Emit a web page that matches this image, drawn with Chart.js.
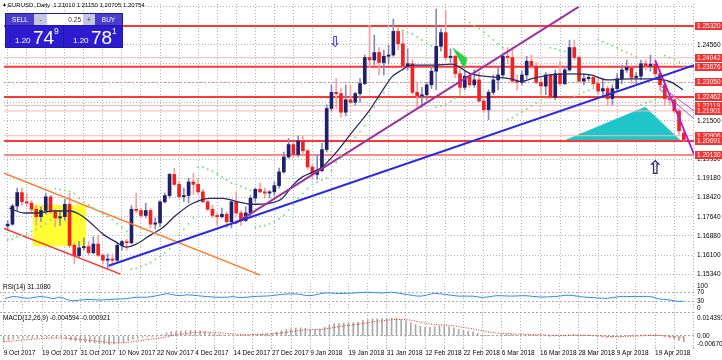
<!DOCTYPE html>
<html>
<head>
<meta charset="utf-8">
<script src="https://cdn.jsdelivr.net/npm/chart.js@4.4.1/dist/chart.umd.min.js"></script>
<style>
  body { margin: 0; background: #fff; width: 722px; height: 360px; overflow: hidden; position: relative;
         font-family: "Liberation Sans", Arial, sans-serif; }
  canvas { position: absolute; left: 0; }
  .txt { position: absolute; white-space: nowrap; line-height: 1; color: #000; }
  .box { position: absolute; text-align: center; color: #fff; font-size: 6.5px; line-height: 11px; }
</style>
</head>
<body>
<canvas id="main" width="722" height="283" style="top:0"></canvas>
<canvas id="rsi" width="722" height="27" style="top:283px"></canvas>
<canvas id="macd" width="722" height="50" style="top:310px"></canvas>

<!-- header line -->
<div class="txt" style="left:2px;top:2px;font-size:5px;">&#9650;</div>
<div class="txt" style="left:8px;top:2px;font-size:6px;">EURUSD.,Daily&nbsp; 1.21010 1.21150 1.20705 1.20754</div>

<!-- one click trading panel -->
<div style="position:absolute;left:5px;top:13px;width:118px;height:35px;background:#2417a6;"></div>
<div class="box" style="left:6px;top:14px;width:28px;height:11px;background:#4a3ecf;">SELL</div>
<div class="box" style="left:34px;top:14px;width:13px;height:11px;background:#c6c6e6;color:#333;">-</div>
<div class="box" style="left:47px;top:14px;width:34px;height:11px;background:#fff;color:#333;text-align:right;padding-right:2px;">0.25</div>
<div class="box" style="left:83px;top:14px;width:12px;height:11px;background:#c6c6e6;color:#333;">+</div>
<div class="box" style="left:95px;top:14px;width:27px;height:11px;background:#4a3ecf;">BUY</div>
<div style="position:absolute;left:6px;top:26px;width:57px;height:21px;background:#2d1ccf;"></div>
<div style="position:absolute;left:64px;top:26px;width:58px;height:21px;background:#2d1ccf;"></div>
<div class="txt" style="left:15px;top:37px;font-size:8px;color:#fff;">1.20</div>
<div class="txt" style="left:33px;top:28px;font-size:19px;color:#fff;">74</div>
<div class="txt" style="left:54px;top:27px;font-size:8.5px;color:#fff;">9</div>
<div class="txt" style="left:73px;top:37px;font-size:8px;color:#fff;">1.20</div>
<div class="txt" style="left:91px;top:28px;font-size:19px;color:#fff;">78</div>
<div class="txt" style="left:112px;top:27px;font-size:8.5px;color:#fff;">1</div>

<!-- sub window titles -->
<div class="txt" style="left:3px;top:283.5px;font-size:6.5px;">RSI(14) 31.1080</div>
<div class="txt" style="left:3px;top:314.5px;font-size:6.5px;">MACD(12,26,9) -0.004594 -0.000921</div>

<script>
// bar index 0 = 9 Oct 2017, 142 = 27 Apr 2018
const opens = [
  1.1728,1.1735,1.1808,1.1862,1.1825,1.1820,1.1795,1.1765,1.1790,1.1845,
  1.1785,1.1760,1.1765,1.1815,1.1650,1.1608,1.1640,1.1645,1.1620,1.1655,
  1.1610,1.1590,1.1595,1.1590,1.1650,1.1665,1.1660,1.1795,1.1790,1.1770,
  1.1790,1.1735,1.1740,1.1825,1.1850,1.1935,1.1895,1.1845,1.1850,1.1905,
  1.1895,1.1865,1.1825,1.1795,1.1770,1.1765,1.1775,1.1745,1.1825,1.1780,
  1.1750,1.1780,1.1840,1.1875,1.1865,1.1860,1.1865,1.1890,1.1945,1.2005,
  1.2055,1.2015,1.2070,1.2030,1.1965,1.1935,1.1950,1.2035,1.2200,1.2265,
  1.2260,1.2185,1.2235,1.2225,1.2260,1.2300,1.2405,1.2395,1.2425,1.2385,
  1.2410,1.2415,1.2510,1.2460,1.2370,1.2380,1.2265,1.2250,1.2255,1.2295,
  1.2350,1.2450,1.2505,1.2405,1.2410,1.2340,1.2285,1.2330,1.2295,1.2315,
  1.2230,1.2195,1.2265,1.2315,1.2335,1.2410,1.2405,1.2310,1.2305,1.2335,
  1.2390,1.2370,1.2305,1.2290,1.2335,1.2245,1.2340,1.2300,1.2355,1.2445,
  1.2405,1.2310,1.2320,1.2325,1.2300,1.2270,1.2280,1.2240,1.2280,1.2320,
  1.2355,1.2365,1.2325,1.2330,1.2380,1.2370,1.2378,1.2340,1.2295,1.2240,
  1.2235,1.2190,1.2101
];
const highs = [
  1.1750,1.1815,1.1880,1.1880,1.1860,1.1830,1.1810,1.1805,1.1860,1.1850,
  1.1795,1.1790,1.1835,1.1860,1.1660,1.1665,1.1680,1.1665,1.1685,1.1690,
  1.1615,1.1615,1.1615,1.1660,1.1670,1.1675,1.1810,1.1860,1.1800,1.1820,
  1.1800,1.1760,1.1830,1.1860,1.1940,1.1960,1.1905,1.1880,1.1920,1.1940,
  1.1915,1.1875,1.1830,1.1810,1.1780,1.1800,1.1785,1.1830,1.1865,1.1790,
  1.1805,1.1850,1.1880,1.1900,1.1880,1.1870,1.1905,1.1960,1.2025,1.2080,
  1.2065,1.2090,1.2090,1.2035,1.1975,1.2015,1.2060,1.2215,1.2295,1.2320,
  1.2280,1.2295,1.2295,1.2265,1.2320,1.2415,1.2535,1.2495,1.2445,1.2435,
  1.2455,1.2560,1.2520,1.2510,1.2440,1.2395,1.2300,1.2285,1.2305,1.2370,
  1.2600,1.2520,1.2595,1.2440,1.2415,1.2360,1.2350,1.2340,1.2355,1.2345,
  1.2245,1.2275,1.2335,1.2365,1.2420,1.2445,1.2445,1.2335,1.2350,1.2410,
  1.2415,1.2385,1.2320,1.2345,1.2340,1.2355,1.2390,1.2370,1.2475,1.2475,
  1.2410,1.2340,1.2335,1.2335,1.2325,1.2320,1.2290,1.2295,1.2340,1.2375,
  1.2395,1.2375,1.2345,1.2395,1.2395,1.2415,1.2395,1.2355,1.2310,1.2260,
  1.2245,1.2200,1.2115
];
const lows = [
  1.1710,1.1730,1.1790,1.1810,1.1805,1.1780,1.1730,1.1745,1.1775,1.1775,
  1.1725,1.1730,1.1750,1.1640,1.1575,1.1600,1.1630,1.1610,1.1615,1.1605,
  1.1575,1.1555,1.1575,1.1585,1.1630,1.1630,1.1655,1.1780,1.1760,1.1760,
  1.1720,1.1715,1.1725,1.1820,1.1840,1.1890,1.1840,1.1825,1.1820,1.1855,
  1.1855,1.1820,1.1790,1.1760,1.1730,1.1760,1.1720,1.1720,1.1770,1.1730,
  1.1745,1.1760,1.1825,1.1860,1.1840,1.1840,1.1850,1.1880,1.1940,1.2000,
  1.2000,1.2005,1.2015,1.1955,1.1915,1.1915,1.1945,1.2025,1.2190,1.2200,
  1.2165,1.2170,1.2220,1.2215,1.2225,1.2295,1.2365,1.2375,1.2335,1.2335,
  1.2380,1.2410,1.2435,1.2365,1.2355,1.2255,1.2205,1.2205,1.2235,1.2280,
  1.2275,1.2430,1.2395,1.2385,1.2325,1.2260,1.2275,1.2285,1.2285,1.2225,
  1.2185,1.2155,1.2255,1.2275,1.2325,1.2380,1.2305,1.2275,1.2295,1.2320,
  1.2360,1.2300,1.2255,1.2255,1.2240,1.2235,1.2290,1.2295,1.2350,1.2395,
  1.2305,1.2295,1.2310,1.2285,1.2255,1.2250,1.2215,1.2215,1.2270,1.2300,
  1.2345,1.2300,1.2300,1.2315,1.2355,1.2350,1.2330,1.2275,1.2215,1.2215,
  1.2180,1.2095,1.2070
];
const closes = [
  1.1735,1.1808,1.1862,1.1825,1.1820,1.1795,1.1765,1.1790,1.1845,1.1785,
  1.1760,1.1765,1.1815,1.1650,1.1608,1.1640,1.1645,1.1620,1.1655,1.1610,
  1.1590,1.1595,1.1590,1.1650,1.1665,1.1660,1.1795,1.1790,1.1770,1.1790,
  1.1735,1.1740,1.1825,1.1850,1.1935,1.1895,1.1845,1.1850,1.1905,1.1895,
  1.1865,1.1825,1.1795,1.1770,1.1765,1.1775,1.1745,1.1825,1.1780,1.1750,
  1.1780,1.1840,1.1875,1.1865,1.1860,1.1865,1.1890,1.1945,1.2005,1.2055,
  1.2015,1.2070,1.2030,1.1965,1.1935,1.1950,1.2035,1.2200,1.2265,1.2260,
  1.2185,1.2235,1.2225,1.2260,1.2300,1.2405,1.2395,1.2425,1.2385,1.2410,
  1.2415,1.2510,1.2460,1.2370,1.2380,1.2265,1.2250,1.2255,1.2295,1.2350,
  1.2450,1.2505,1.2405,1.2410,1.2340,1.2285,1.2330,1.2295,1.2315,1.2230,
  1.2195,1.2265,1.2315,1.2335,1.2410,1.2405,1.2310,1.2305,1.2335,1.2390,
  1.2370,1.2305,1.2290,1.2335,1.2245,1.2340,1.2300,1.2355,1.2445,1.2405,
  1.2310,1.2320,1.2325,1.2300,1.2270,1.2280,1.2240,1.2280,1.2320,1.2355,
  1.2365,1.2325,1.2330,1.2380,1.2370,1.2378,1.2340,1.2295,1.2240,1.2235,
  1.2190,1.2110,1.2075
];

// parabolic SAR dots, one per bar
const sar = [
  1.1671,1.1675,1.1683,1.1690,1.1698,1.1706,1.1714,1.1726,1.1737,1.1753,
  1.1878,1.1874,1.1870,1.1866,1.1858,1.1839,1.1823,1.1812,1.1800,1.1788,
  1.1776,1.1765,1.1753,1.1737,1.1722,1.1706,1.1554,1.1558,1.1565,1.1573,
  1.1581,1.1593,1.1605,1.1620,1.1636,1.1663,1.1690,1.1714,1.1737,1.1761,
  1.1964,1.1964,1.1956,1.1948,1.1937,1.1925,1.1913,1.1901,1.1894,1.1886,
  1.1878,1.1870,1.1722,1.1726,1.1730,1.1737,1.1745,1.1757,1.1772,1.1792,
  1.1815,1.1839,1.1858,1.1878,1.1894,1.1905,1.1913,1.1921,1.1952,1.1983,
  1.2010,1.2037,1.2061,1.2084,1.2108,1.2131,1.2170,1.2205,1.2237,1.2264,
  1.2530,1.2526,1.2522,1.2515,1.2507,1.2499,1.2487,1.2475,1.2464,1.2452,
  1.2206,1.2210,1.2218,1.2229,1.2241,1.2253,1.2558,1.2546,1.2534,1.2522,
  1.2507,1.2491,1.2475,1.2460,1.2444,1.2155,1.2163,1.2175,1.2186,1.2198,
  1.2210,1.2222,1.2233,1.2241,1.2444,1.2440,1.2433,1.2429,1.2241,1.2249,
  1.2257,1.2265,1.2272,1.2280,1.2476,1.2468,1.2460,1.2452,1.2444,1.2433,
  1.2425,1.2417,1.2409,1.2214,1.2222,1.2229,1.2237,1.2241,1.2413,1.2405,
  1.2397,1.2386,1.2370
];

// moving average, read at sample points
const maIdx = [0.3, 3.4, 6.1, 9.7, 13.2, 15.3, 17.4, 20.1, 22.8, 24.9, 27.0, 29.9, 32.6, 35.4, 38.9,
  42.5, 45.2, 47.9, 51.4, 55.0, 57.7, 59.8, 61.9, 64.0, 66.0, 68.8, 72.3, 75.9, 78.6, 80.7, 82.7, 84.8,
  86.9, 89.6, 93.2, 97.4, 101.5, 105.7, 107.8, 109.9, 114.1, 118.3, 122.4, 126.0, 130.8, 134.9, 139.1, 141.8];
const maVal = [1.1800, 1.1780, 1.1780, 1.1788, 1.1788, 1.1772, 1.1741, 1.1694, 1.1663, 1.1643, 1.1655,
  1.1690, 1.1722, 1.1772, 1.1819, 1.1839, 1.1839, 1.1827, 1.1815, 1.1819, 1.1839, 1.1890, 1.1925, 1.1944,
  1.1964, 1.2019, 1.2104, 1.2190, 1.2269, 1.2327, 1.2354, 1.2374, 1.2374, 1.2374, 1.2378, 1.2339, 1.2327,
  1.2319, 1.2308, 1.2319, 1.2335, 1.2339, 1.2335, 1.2315, 1.2319, 1.2319, 1.2308, 1.2276];

// RSI(14), read at sample points
const rsiIdx = [0.3, 1.9, 3.4, 4.9, 6.1, 7.6, 9.0, 10.3, 11.8, 13.2, 14.3, 15.9, 18.0, 20.1, 22.2, 24.3,
  25.7, 27.8, 29.9, 32.0, 34.1, 35.4, 36.8, 38.3, 40.4, 42.5, 44.5, 46.6, 47.9, 49.3, 52, 56, 58, 61, 64,
  67, 70, 73, 76, 79, 81, 84, 87, 90, 92, 95, 98, 100, 103, 106, 109, 112, 115, 118, 121, 124, 126, 128.7,
  131.8, 134.9, 137.0, 138.5, 140.2, 141.2, 142];
const rsiVal = [43, 52, 49, 44, 47, 52, 49, 43, 49, 39, 33, 36, 39, 36, 39, 41, 43, 49, 49, 56, 65, 60, 56,
  60, 56, 52, 49, 49, 52, 47, 52, 56, 62, 64, 56, 68, 66, 68, 72, 68, 72, 62, 54, 66, 62, 54, 54, 48, 56,
  54, 56, 50, 52, 58, 50, 46, 44, 52, 52, 52, 41, 38, 32, 30, 31.1];

// MACD(12,26,9) main (histogram) and signal, one per bar
const macdMain = [
  -0.0040,-0.0033,-0.0024,-0.0020,-0.0017,-0.0016,-0.0017,-0.0015,-0.0010,-0.0011,
  -0.0013,-0.0014,-0.0011,-0.0022,-0.0034,-0.0040,-0.0044,-0.0049,-0.0052,-0.0056,
  -0.0060,-0.0064,-0.0067,-0.0063,-0.0057,-0.0052,-0.0038,-0.0026,-0.0018,-0.0011,
  -0.0009,-0.0008,0.0001,0.0011,0.0026,0.0034,0.0036,0.0037,0.0042,0.0045,
  0.0044,0.0040,0.0033,0.0025,0.0018,0.0013,0.0007,0.0009,0.0007,0.0003,
  0.0002,0.0006,0.0012,0.0016,0.0018,0.0020,0.0024,0.0032,0.0042,0.0053,
  0.0057,0.0064,0.0066,0.0062,0.0055,0.0051,0.0054,0.0069,0.0085,0.0097,
  0.0099,0.0103,0.0104,0.0107,0.0112,0.0124,0.0131,0.0138,0.0138,0.0139,
  0.0139,0.0144,0.0142,0.0132,0.0123,0.0106,0.0091,0.0078,0.0071,0.0069,
  0.0074,0.0081,0.0078,0.0074,0.0065,0.0053,0.0047,0.0039,0.0034,0.0021,
  0.0008,0.0003,0.0003,0.0004,0.0011,0.0016,0.0012,0.0008,0.0007,0.0010,
  0.0011,0.0007,0.0003,0.0003,-0.0004,0.0000,-0.0002,0.0001,0.0010,0.0013,
  0.0008,0.0005,0.0003,0.0000,-0.0005,-0.0007,-0.0012,-0.0011,-0.0007,-0.0001,
  0.0003,0.0003,0.0003,0.0007,0.0009,0.0010,0.0009,0.0003,-0.0008,-0.0014,
  -0.0024,-0.0037,-0.0046
];
const macdSignal = [
  -0.0045,-0.0043,-0.0040,-0.0036,-0.0032,-0.0029,-0.0026,-0.0024,-0.0021,-0.0019,
  -0.0018,-0.0017,-0.0016,-0.0017,-0.0020,-0.0024,-0.0028,-0.0032,-0.0036,-0.0040,
  -0.0044,-0.0048,-0.0052,-0.0054,-0.0055,-0.0054,-0.0050,-0.0045,-0.0040,-0.0034,
  -0.0028,-0.0024,-0.0019,-0.0013,-0.0006,0.0002,0.0008,0.0014,0.0019,0.0024,
  0.0028,0.0031,0.0032,0.0031,0.0029,0.0026,0.0022,0.0020,0.0017,0.0014,
  0.0012,0.0011,0.0011,0.0012,0.0013,0.0015,0.0017,0.0020,0.0024,0.0030,
  0.0035,0.0040,0.0045,0.0049,0.0050,0.0051,0.0052,0.0055,0.0061,0.0068,
  0.0074,0.0080,0.0085,0.0089,0.0094,0.0100,0.0106,0.0112,0.0118,0.0122,
  0.0126,0.0130,0.0133,0.0133,0.0131,0.0126,0.0119,0.0111,0.0103,0.0096,
  0.0092,0.0089,0.0087,0.0085,0.0081,0.0075,0.0069,0.0063,0.0057,0.0050,
  0.0042,0.0034,0.0028,0.0023,0.0021,0.0020,0.0018,0.0016,0.0014,0.0013,
  0.0013,0.0012,0.0010,0.0009,0.0006,0.0005,0.0003,0.0003,0.0004,0.0006,
  0.0006,0.0006,0.0005,0.0004,0.0002,0.0000,-0.0003,-0.0004,-0.0005,-0.0004,
  -0.0003,-0.0002,-0.0001,0.0001,0.0003,0.0004,0.0005,0.0005,0.0002,-0.0001,
  -0.0006,-0.0009,-0.0009
];

const dateLabels = ['9 Oct 2017', '19 Oct 2017', '31 Oct 2017', '10 Nov 2017', '22 Nov 2017', '4 Dec 2017',
  '14 Dec 2017', '27 Dec 2017', '9 Jan 2018', '19 Jan 2018', '31 Jan 2018', '12 Feb 2018', '22 Feb 2018',
  '6 Mar 2018', '16 Mar 2018', '28 Mar 2018', '9 Apr 2018', '19 Apr 2018'];

const priceTicks = [1.15340, 1.16100, 1.16880, 1.17640, 1.18420, 1.19180, 1.19950, 1.20720, 1.21500,
  1.22260, 1.23030, 1.23790, 1.24560, 1.25330, 1.26100];
const shownPriceTicks = [1.15340, 1.16100, 1.16880, 1.17640, 1.18420, 1.19180, 1.19950, 1.21500, 1.24560];

// horizontal levels with their price tags
const levelPrices = [1.25320, 1.24042, 1.23676, 1.23050, 1.22462, 1.22119, 1.21901, 1.20906, 1.20691, 1.20130];
const levelWidth = [2, 1, 2, 0, 2, 1, 1, 1, 2, 1.3];

// drawn objects, [bar index, price]
const blueTrend = [[21.2, 1.15681], [144.14, 1.23740]];
const purpleTrend = [[47.7, 1.17372], [119.9, 1.26083]];
const channelTop = [[-0.77, 1.19404], [53.1, 1.15302]];
const channelBottom = [[-0.77, 1.17177], [23.7, 1.15341]];
const fastDrop = [[136.0, 1.23935], [144.14, 1.20166]];
const fanA = [[137.0, 1.22763], [144.14, 1.21591]];
const fanB = [[137.0, 1.22919], [144.14, 1.21904]];
const yellowBox = [[5.28, 1.18115], [16.35, 1.18115], [16.35, 1.16474], [5.28, 1.16474]];
const cyanTriangle = [[117.2, 1.20732], [133.9, 1.22060], [141.2, 1.20732]];
const greenTriangle = [[93.4, 1.24443], [96.5, 1.24013], [95.9, 1.23583]];
const downArrow = [68.8, 1.2464];
const upArrow = [136.0, 1.1956];

const X_MIN = -0.77, X_MAX = 144.14;
const AXIS_W = 28;
const GRID = '#aeb4bc';
const FONT = { family: '"Liberation Sans", Arial, sans-serif', size: 6.5 };
const BULL = '#1f1f6b', BEAR = '#ee2222', BULL_WICK = '#8a8ab8', BEAR_WICK = '#f4a0a0';

const gridIdx = [];
for (let v = 0; v <= 144; v += 4) gridIdx.push(v);

const pts = arr => arr.map(p => ({ x: p[0], y: p[1] }));

function seg(points, color, width, order) {
  return { type: 'line', data: pts(points), borderColor: color, borderWidth: width,
    pointRadius: 0, tension: 0, fill: false, order: order };
}

function shape(points, color, order) {
  return { type: 'line', data: pts(points), borderColor: color, borderWidth: 0.5, backgroundColor: color,
    pointRadius: 0, tension: 0, fill: 'shape', order: order };
}

// level line style: 0 = dotted, 1 = thin pink, >1 = red
function levelLine(p, w) {
  const d = seg([[X_MIN, p], [X_MAX, p]],
    w === 0 ? '#c89a9a' : (w >= 2 ? '#ff3636' : (w > 1 ? '#ff6060' : '#ffb4b4')), w === 0 ? 1 : w, 18);
  if (w === 0) d.borderDash = [2, 2];
  return d;
}

function xScale() {
  return {
    type: 'linear', min: X_MIN, max: X_MAX, offset: false,
    border: { display: false, dash: [1, 2] },
    grid: { color: GRID, drawTicks: false, offset: false },
    ticks: { display: false },
    afterBuildTicks: s => { s.ticks = gridIdx.map(v => ({ value: v })); },
    afterFit: s => { s.height = 0; s.paddingLeft = 0; s.paddingRight = 0; }
  };
}

function fitRight(s) {
  s.width = AXIS_W;
  s.paddingTop = 0;
  s.paddingBottom = 0;
}

const baseOptions = {
  animation: false,
  responsive: false,
  layout: { padding: 0 },
  plugins: { legend: { display: false }, tooltip: { enabled: false } }
};

// price tags on the right axis and arrow objects
const mainExtras = {
  id: 'mainExtras',
  afterDatasetsDraw(chart) {
    const { ctx, scales: { x, y } } = chart;
    ctx.save();
    ctx.textAlign = 'center';
    ctx.textBaseline = 'middle';
    ctx.fillStyle = '#4444d4';
    ctx.font = 'bold 15px "DejaVu Sans"';
    ctx.fillText('\u21E9', x.getPixelForValue(downArrow[0]), y.getPixelForValue(downArrow[1]));
    ctx.fillStyle = '#2c2c78';
    ctx.font = 'bold 19px "DejaVu Sans"';
    ctx.fillText('\u21E7', x.getPixelForValue(upArrow[0]), y.getPixelForValue(upArrow[1]));
    ctx.restore();
  },
  afterDraw(chart) {
    const { ctx, chartArea, scales: { y } } = chart;
    ctx.save();
    ctx.font = '6.5px "Liberation Sans", Arial, sans-serif';
    ctx.textBaseline = 'middle';
    levelPrices.forEach(p => {
      const py = Math.round(y.getPixelForValue(p));
      ctx.fillStyle = '#f03434';
      ctx.fillRect(chartArea.right + 1, py - 4, AXIS_W - 1, 8);
      ctx.fillStyle = '#fff';
      ctx.fillText(p.toFixed(5), chartArea.right + 3, py + 0.5);
    });
    ctx.restore();
  }
};

const bull = closes.map((c, i) => c >= opens[i]);

const mainDatasets = [
  shape(yellowBox, '#ffff33', 20),
  shape(cyanTriangle, '#1fc6c9', 19),
  ...levelPrices.map((p, k) => levelLine(p, levelWidth[k])),
  {
    type: 'bar', order: 9, grouped: false, barThickness: 1, borderWidth: 0,
    data: lows.map((l, i) => ({ x: i, y: [l, highs[i]] })),
    backgroundColor: bull.map(b => b ? BULL_WICK : BEAR_WICK)
  },
  {
    type: 'bar', order: 8, grouped: false, barThickness: 3, borderWidth: 0, minBarLength: 1,
    data: opens.map((o, i) => ({ x: i, y: [o, closes[i]] })),
    backgroundColor: bull.map(b => b ? BULL : BEAR)
  },
  {
    type: 'line', order: 6, data: maIdx.map((v, k) => ({ x: v, y: maVal[k] })),
    borderColor: '#2b2b66', borderWidth: 1.3, pointRadius: 0, cubicInterpolationMode: 'monotone', fill: false
  },
  seg(channelTop, '#ff7a2a', 1.5, 5),
  seg(channelBottom, '#ff3030', 1.5, 5),
  seg(blueTrend, '#2a2ae6', 2, 4),
  seg(purpleTrend, '#9a34a2', 2, 4),
  seg(fanA, '#a050c8', 1, 4),
  seg(fanB, '#a050c8', 1, 4),
  seg(fastDrop, '#b818d0', 1.8, 4),
  shape(greenTriangle, '#2cd046', 3),
  {
    type: 'line', order: 2, showLine: false, data: sar.map((v, i) => ({ x: i, y: v })),
    pointRadius: 1, pointBorderWidth: 0, pointBackgroundColor: '#7ee07e'
  }
];

new Chart(document.getElementById('main'), {
  type: 'bar',
  data: { datasets: mainDatasets },
  options: Object.assign({}, baseOptions, {
    scales: {
      x: xScale(),
      y: {
        position: 'right', min: 1.15146, max: 1.26201,
        border: { display: false, dash: [1, 2] },
        grid: { color: GRID, drawTicks: false },
        ticks: { autoSkip: false, padding: 3, color: '#000', font: FONT,
          callback: v => shownPriceTicks.includes(v) ? v.toFixed(5) : '' },
        afterBuildTicks: s => { s.ticks = priceTicks.map(v => ({ value: v })); },
        afterFit: fitRight
      }
    }
  }),
  plugins: [mainExtras]
});

// RSI window
const rsiTicks = [0, 30, 70, 100];
new Chart(document.getElementById('rsi'), {
  type: 'line',
  data: { datasets: [{
    data: rsiIdx.map((v, k) => ({ x: v, y: rsiVal[k] })),
    borderColor: '#2a8cf0', borderWidth: 1, pointRadius: 0, tension: 0.3, fill: false
  }] },
  options: Object.assign({}, baseOptions, {
    scales: {
      x: xScale(),
      y: {
        position: 'right', min: -9, max: 113.6,
        border: { display: false, dash: [2, 2] },
        grid: { drawTicks: false, color: c => (c.tick && (c.tick.value === 30 || c.tick.value === 70)) ? '#b0b0b0' : 'transparent' },
        ticks: { autoSkip: false, padding: 3, color: '#000', font: FONT, callback: v => String(v) },
        afterBuildTicks: s => { s.ticks = rsiTicks.map(v => ({ value: v })); },
        afterFit: fitRight
      }
    }
  })
});

// MACD window with the date axis
const MACD_MIN = -0.008796, MACD_MAX = 0.019191;
const macdTickValues = [MACD_MAX, 0.014393, 0, -0.006705];
const macdTickLabels = ['', '0.014393', '0.00', '-0.006705'];
const macdX = xScale();
macdX.ticks = { display: true, autoSkip: false, maxRotation: 0, align: 'start', padding: 0, color: '#000', font: FONT,
  callback: v => (v % 8 === 0 && dateLabels[v / 8]) ? dateLabels[v / 8] : '' };
macdX.grid = { color: GRID, drawTicks: true, tickLength: 2, offset: false };
macdX.afterFit = s => { s.height = 13; s.paddingLeft = 0; s.paddingRight = 0; };

new Chart(document.getElementById('macd'), {
  type: 'bar',
  data: { datasets: [
    {
      type: 'line', order: 1, data: macdSignal.map((v, i) => ({ x: i, y: v })),
      borderColor: '#ff1c1c', borderWidth: 1, borderDash: [1, 1.5], pointRadius: 0, tension: 0, fill: false
    },
    {
      type: 'bar', order: 2, barThickness: 1, borderWidth: 0, backgroundColor: '#a8a8a8',
      data: macdMain.map((v, i) => ({ x: i, y: v }))
    }
  ] },
  options: Object.assign({}, baseOptions, {
    layout: { padding: { top: 2 } },
    scales: {
      x: macdX,
      y: {
        position: 'right', min: MACD_MIN, max: MACD_MAX,
        border: { display: false, dash: [2, 2] },
        grid: { drawTicks: false, color: c => (c.tick && (c.tick.value === 0 || c.tick.value === MACD_MAX)) ? '#a8a8a8' : 'transparent' },
        ticks: { autoSkip: false, padding: 3, color: '#000', font: FONT,
          callback: v => { const k = macdTickValues.indexOf(v); return k >= 0 ? macdTickLabels[k] : ''; } },
        afterBuildTicks: s => { s.ticks = macdTickValues.map(v => ({ value: v })); },
        afterFit: fitRight
      }
    }
  })
});
</script>
</body>
</html>
